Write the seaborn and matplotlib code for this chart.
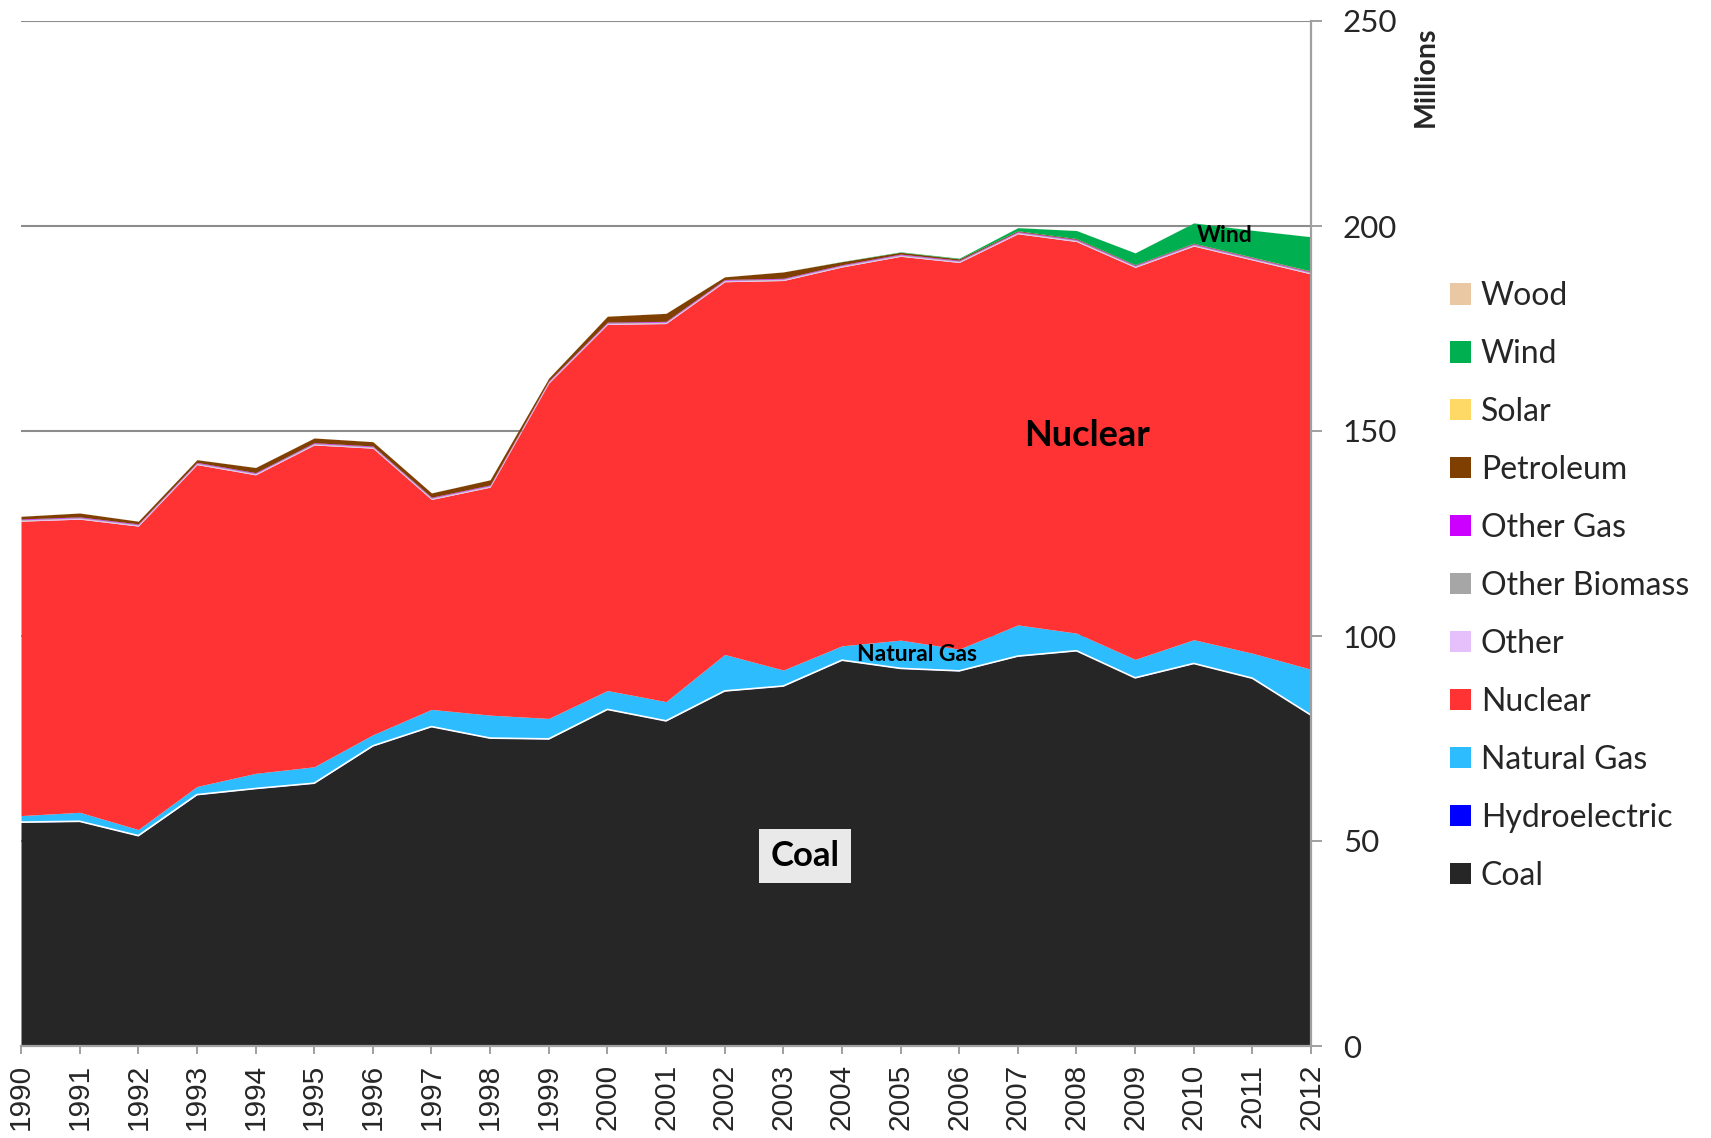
import numpy as np
import pandas as pd
import matplotlib
matplotlib.use("Agg")
import matplotlib.pyplot as plt
from matplotlib.patches import Patch
import seaborn as sns

years = list(range(1990, 2013))

coal = [54.6, 54.8, 51.3, 61.3, 62.8, 64.1, 73.2, 77.9, 75.1, 74.9, 82.1, 79.3,
        86.6, 87.8, 94.1, 92.1, 91.5, 95.1, 96.4, 89.8, 93.3, 89.7, 80.7]
hydroelectric = [0.05] * 23
natural_gas = [1.55, 2.15, 1.45, 1.95, 3.65, 3.95, 2.65, 4.15, 5.55, 4.95, 4.55, 4.65,
               8.85, 3.85, 3.45, 6.85, 5.25, 7.55, 4.25, 4.45, 5.75, 6.05, 11.15]
nuclear = [71.8, 71.5, 74.0, 78.5, 72.8, 78.5, 69.9, 51.2, 55.6, 81.8, 89.3, 92.2,
           90.9, 95.0, 92.4, 93.6, 94.3, 95.4, 95.5, 95.6, 96.0, 95.9, 96.4]
other = [0.2] * 23
other_biomass = [0.2] * 23
other_gas = [0.15] * 23
petroleum = [0.65, 0.95, 0.65, 0.65, 1.25, 1.15, 1.05, 1.05, 1.25, 0.65, 1.45, 1.95,
             0.65, 1.55, 0.75, 0.45, 0.35, 0.2, 0.2, 0.15, 0.15, 0.15, 0.15]
solar = [0.0] * 20 + [0.01, 0.02, 0.03]
wind = [0.0] * 14 + [0.05, 0.1, 0.15, 0.75, 1.95, 2.85, 4.95, 6.55, 8.35]
wood = [0.02] * 23

series_names = ["Coal", "Hydroelectric", "Natural Gas", "Nuclear", "Other",
                "Other Biomass", "Other Gas", "Petroleum", "Solar", "Wind", "Wood"]
series_values = [coal, hydroelectric, natural_gas, nuclear, other, other_biomass,
                 other_gas, petroleum, solar, wind, wood]
series_colors = ["#262626", "#0000FF", "#2DBDFF", "#FF3333", "#E6C0FA", "#A6A6A6",
                 "#CC00FF", "#7F3F00", "#FFD966", "#00B050", "#EBC8A4"]

y_ticks = [0, 50, 100, 150, 200, 250]

df = pd.DataFrame(dict(zip(series_names, series_values)), index=years)

sns.set_theme(style="white")
plt.rcParams["font.family"] = ["Lato", "DejaVu Sans"]

fig = plt.figure(figsize=(17.11, 11.38), dpi=100)
ax = fig.add_axes([21 / 1711, 1 - 1046 / 1138, 1290 / 1711, 1025 / 1138])

# gridlines behind
ax.set_axisbelow(True)
ax.yaxis.grid(True, color="#8c8c8c", linewidth=1.5)
ax.xaxis.grid(False)

ax.stackplot(df.index, [df[c].values for c in series_names],
             colors=series_colors, linewidth=0)
# thin white edge on top of coal
sns.lineplot(x=df.index, y=df["Coal"].values, ax=ax, color="white", linewidth=1.2)

ax.set_xlim(1990, 2012)
ax.set_ylim(0, 250)
ax.set_xticks(years)
ax.set_xticklabels([str(y) for y in years], rotation=90,
                   fontfamily=["Liberation Sans", "DejaVu Sans"], fontsize=21.5)
ax.yaxis.tick_right()
ax.set_yticks(y_ticks)
ax.set_yticklabels([str(v) for v in y_ticks], fontsize=22.5)

for s in ["top", "left"]:
    ax.spines[s].set_visible(False)
for s in ["bottom", "right"]:
    ax.spines[s].set_visible(True)
    ax.spines[s].set_color("#a0a0a0")
    ax.spines[s].set_linewidth(1.6)

ax.tick_params(axis="x", direction="out", length=6, width=1.4, color="#a0a0a0",
               pad=7, bottom=True)
ax.tick_params(axis="y", direction="out", length=8, width=1.4, color="#a0a0a0",
               pad=15, right=True, left=False, labelright=True, labelleft=False)
ax.set_xlabel("")
ax.set_ylabel("")

# Millions label
fig.text(1426 / 1711, 1 - 77 / 1138, "Millions", rotation=90, ha="center",
         va="center", fontsize=20.5, fontweight="bold")

# in-chart labels
ax.text(2008.18, 148.8, "Nuclear", ha="center", va="center", fontsize=26,
        fontweight="bold", color="black")
ax.text(2005.28, 95.6, "Natural Gas", ha="center", va="center", fontsize=16.5,
        fontweight="bold", color="black")
ax.text(2010.53, 197.6, "Wind", ha="center", va="center", fontsize=16.5,
        fontweight="bold", color="black")
ax.text(2003.37, 46.3, "Coal", ha="center", va="center", fontsize=25,
        fontweight="bold", color="black",
        bbox=dict(boxstyle="square,pad=0.32", facecolor="#e9e9e9",
                  edgecolor="none"))

# legend (top to bottom: Wood ... Coal)
handles = [Patch(facecolor=c, edgecolor="none", label=n)
           for n, c in zip(series_names[::-1], series_colors[::-1])]
fig.legend(handles=handles, loc="upper left",
           bbox_to_anchor=(1450 / 1711, 1 - 281 / 1138),
           frameon=False, fontsize=23, handlelength=0.66, handleheight=0.66,
           handletextpad=0.3, labelspacing=0.875, borderpad=0, borderaxespad=0)

fig.savefig("out.png", dpi=100)
